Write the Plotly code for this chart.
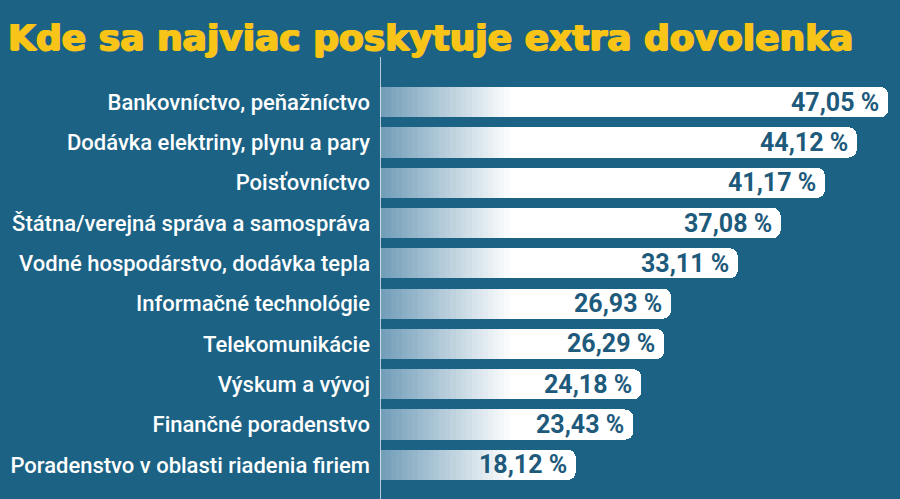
import plotly.graph_objects as go

title = "Kde sa najviac poskytuje extra dovolenka"
categories = [
    "Bankovníctvo, peňažníctvo",
    "Dodávka elektriny, plynu a pary",
    "Poisťovníctvo",
    "Štátna/verejná správa a samospráva",
    "Vodné hospodárstvo, dodávka tepla",
    "Informačné technológie",
    "Telekomunikácie",
    "Výskum a vývoj",
    "Finančné poradenstvo",
    "Poradenstvo v oblasti riadenia firiem",
]
values = [47.05, 44.12, 41.17, 37.08, 33.11, 26.93, 26.29, 24.18, 23.43, 18.12]
labels = [f"{v:.2f}".replace(".", ",") + " %" for v in values]

BG = "#1b6285"
TEXT_DARK = "#1d5a7b"
YELLOW = "#f7c417"

# gradient (light steel blue -> white) across the first part of every bar
steps = 25
step_w = 0.5
c0 = (0x72, 0x9e, 0xb8)
c1 = (0xff, 0xff, 0xff)

fig = go.Figure()
for i in range(steps):
    t = i / (steps - 1)
    col = "rgb(%d,%d,%d)" % tuple(round(a + (b - a) * t) for a, b in zip(c0, c1))
    fig.add_trace(go.Bar(
        y=categories, x=[step_w] * len(values), orientation="h",
        marker=dict(color=col, line=dict(width=0)),
        hoverinfo="skip", showlegend=False,
    ))
fig.add_trace(go.Bar(
    y=categories, x=[v - steps * step_w for v in values], orientation="h",
    marker=dict(color="#ffffff", line=dict(width=0)),
    customdata=values, hovertemplate="%{y}: %{customdata}%<extra></extra>",
    showlegend=False,
))

for cat, v, lab in zip(categories, values, labels):
    fig.add_annotation(x=v, y=cat, text=lab, showarrow=False, xanchor="right",
                       yanchor="middle", xshift=-7,
                       font=dict(family="Roboto", size=25, color=TEXT_DARK, weight=700))

fig.add_shape(type="line", xref="x", yref="paper", x0=0, x1=0, y0=-0.06, y1=1.062,
              line=dict(color="#e8f0f5", width=1.5), layer="above")

fig.update_layout(
    width=900, height=499,
    barmode="stack", bargap=0.25, barcornerradius=8,
    paper_bgcolor=BG, plot_bgcolor=BG,
    margin=dict(l=378, r=10, t=82, b=14),
    title=dict(text=title, x=0.009, xanchor="left", y=0.926, yanchor="middle",
               font=dict(family="DejaVu Sans", size=36, color=YELLOW, weight=700,
                         shadow="1px 0 0 %s, -1px 0 0 %s, 0 1px 0 %s" % (YELLOW, YELLOW, YELLOW))),
    xaxis=dict(range=[0, 47.2], visible=False, fixedrange=True),
    yaxis=dict(autorange="reversed", showgrid=False, zeroline=False, showline=False,
               ticks="", ticklabelstandoff=9, fixedrange=True,
               tickfont=dict(family="Roboto", size=22, color="#ffffff", weight=500)),
)

fig.write_html("out.html", config={"displayModeBar": False},
               post_script="document.body.style.margin='0';document.body.style.overflow='hidden';")
